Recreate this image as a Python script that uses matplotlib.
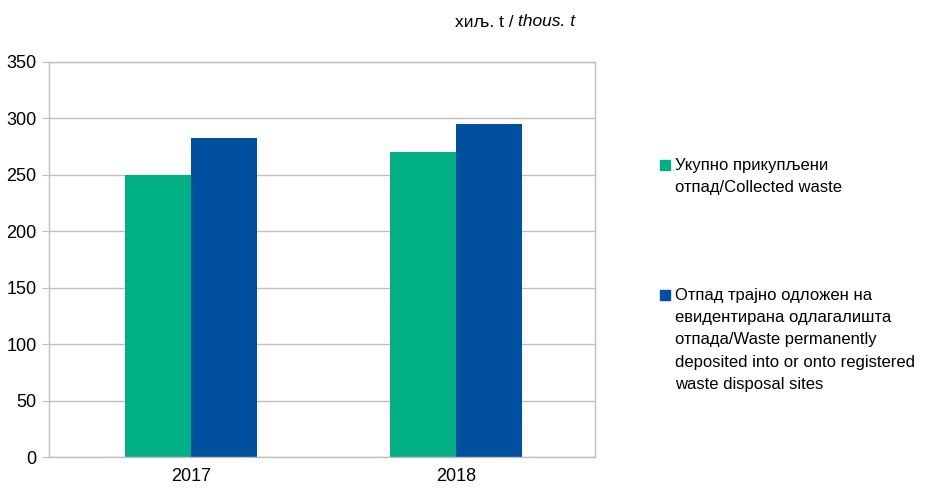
import matplotlib
matplotlib.use("Agg")
import matplotlib.pyplot as plt
from matplotlib.patches import Rectangle
import numpy as np

plt.rcParams['font.family'] = ['Liberation Sans Narrow', 'Liberation Sans', 'DejaVu Sans']

years = ['2017', '2018']
collected = [250, 270]
deposited = [283, 295]
labels = ['Укупно прикупљени\nотпад/Collected waste',
          'Отпад трајно одложен на\nевидентирана одлагалишта\nотпада/Waste permanently\ndeposited into or onto registered\nwaste disposal sites']

green = '#00B084'
blue = '#0050A0'
grid_c = '#BFBFBF'

W, H = 927, 491
fig = plt.figure(figsize=(9.27, 4.91), dpi=100)
ax = fig.add_axes([49/W, 34/H, (595-49)/W, (457-62)/H])

x = np.arange(len(years))
w = 0.25
ax.bar(x - w/2, collected, w, color=green)
ax.bar(x + w/2, deposited, w, color=blue)

ax.set_ylim(0, 350)
ax.set_yticks(range(0, 351, 50))
ax.set_xlim(-0.536, 1.525)
ax.set_xticks(x)
ax.set_xticklabels(years)
ax.yaxis.grid(True, color=grid_c, linewidth=1)
ax.set_axisbelow(True)
for s in ax.spines.values():
    s.set_color(grid_c)
    s.set_linewidth(1)
ax.tick_params(axis='y', length=5, color=grid_c, labelsize=13, pad=4)
ax.tick_params(axis='x', length=0, labelsize=13, pad=8)

# legend drawn by hand so the marker sits on the first line
for lab, col, yc in zip(labels, [green, blue], [165, 295]):
    fig.patches.append(Rectangle((660/W, 1 - (yc + 5)/H), 10/W, 10/H,
                                 transform=fig.transFigure, color=col))
    fig.text(675/W, 1 - (yc - 7)/H, lab, fontsize=12, va='top', ha='left',
             linespacing=1.6)

t1 = fig.text(455/W, 1 - 22/H, 'хиљ. t / ', fontsize=12.5, va='center', ha='left')
fig.canvas.draw()
bb = t1.get_window_extent()
fig.text(bb.x1/W, 1 - 22/H, 'thous. t', fontsize=12.5, va='center', ha='left', style='italic')

fig.savefig('out.png', dpi=100)
